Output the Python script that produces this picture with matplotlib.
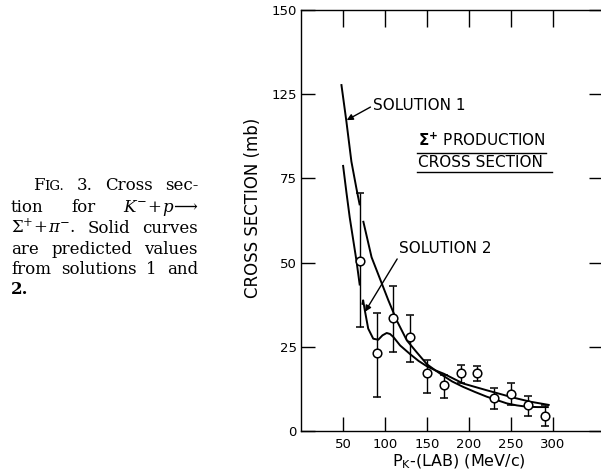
import numpy as np
import matplotlib
matplotlib.use("Agg")
import matplotlib.pyplot as plt
from matplotlib.lines import Line2D

# ---------------- data ----------------
p_lab = [70, 90, 110, 130, 150, 170, 190, 210, 230, 250, 270, 290]
sigma = [50.6, 23.3, 33.5, 28.0, 17.1, 13.7, 17.1, 17.1, 9.7, 10.9, 7.6, 4.4]
err_hi = [70.6, 35.1, 43.2, 34.4, 21.1, 16.7, 19.6, 19.3, 12.7, 14.2, 10.5, 7.8]
err_lo = [30.9, 10.0, 23.6, 20.4, 11.4, 9.7, 14.3, 14.9, 6.6, 7.7, 4.6, 1.5]

sol1_x = [48, 54, 60, 66, 70, np.nan, 74, 84, 94, 104, 114, 126, 138, 150, 160,
          170, 180, 193, 207, 221, 233, 245, 257, 269, 282, 295]
sol1_y = [103, 92, 80, 72, 67, np.nan, 62.4, 51.6, 45.2, 38.8, 32.8, 26.9, 23.3,
          19.8, 18.0, 16.3, 14.7, 13.1, 11.6, 10.2, 9.2, 8.2, 7.6, 7.2, 7.1, 7.1]

sol2_x = [50, 54, 58, 62, 66, 70, np.nan, 73, 74, 76, 80, 86, 92, 97, 102, 106,
          110, 118, 130, 140, 150, 160, 170, 193, 221, 253, 273, 296]
sol2_y = [79, 71, 63.4, 57, 50.6, 43.2, np.nan, 37.5, 38.8, 35.8, 30.4, 27.4,
          27.1, 28.4, 29.1, 28.8, 27.9, 25.4, 22.8, 20.8, 19.2, 18.0, 17.0,
          14.1, 12.1, 9.9, 8.7, 7.7]

x_ticks = [50, 100, 150, 200, 250, 300]
x_tick_labels = ["50", "100", "150", "200", "250", "300"]
y_ticks = [0, 25, 50, 75, 100, 125]
y_tick_labels = ["0", "25", "50", "75", "125", "150"]

# ---------------- figure ----------------
W, H = 601, 473
fig = plt.figure(figsize=(W / 100, H / 100), dpi=100)
fig.patch.set_facecolor("white")

ax_l, ax_r, ax_t, ax_b = 301, 603, 10, 431
ax = fig.add_axes([ax_l / W, (H - ax_b) / H, (ax_r - ax_l) / W, (ax_b - ax_t) / H])
ax.set_xlim(0, (ax_r - ax_l) / 0.84)
ax.set_ylim(0, 125)

for s in ax.spines.values():
    s.set_linewidth(1.0)

ax.set_xticks(x_ticks)
ax.set_xticklabels(x_tick_labels)
ax.set_yticks(y_ticks)
ax.set_yticklabels(y_tick_labels)
ax.tick_params(axis="both", direction="in", length=10, width=1.0,
               top=True, right=True, labelsize=9.5, colors="black")
ax.tick_params(axis="x", pad=5)
ax.tick_params(axis="y", pad=3)
for t in ax.xaxis.get_major_ticks():
    t.tick2line.set_markersize(12)

# curves
ax.plot(sol1_x, sol1_y, color="black", lw=1.4, solid_capstyle="butt")
ax.plot(sol2_x, sol2_y, color="black", lw=1.4, solid_capstyle="butt")

# data points
y = np.array(sigma)
yerr = [y - np.array(err_lo), np.array(err_hi) - y]
ax.errorbar(p_lab, sigma, yerr=yerr, fmt="o", ms=6.2, mfc="white", mec="black",
            mew=1.1, ecolor="black", elinewidth=1.0, capsize=3.0, capthick=1.0,
            zorder=4)

# annotations
ax.annotate("SOLUTION 1", xy=(54.4, 92.3), xytext=(86.0, 95.3),
            ha="left", va="baseline", fontsize=11,
            arrowprops=dict(arrowstyle="-|>", color="black", lw=1.0,
                            mutation_scale=9, shrinkA=0, shrinkB=0,
                            relpos=(0, 0.5)))
ax.annotate("SOLUTION 2", xy=(76.2, 35.4), xytext=(116.5, 52.8),
            ha="left", va="baseline", fontsize=11,
            arrowprops=dict(arrowstyle="-|>", color="black", lw=1.0,
                            mutation_scale=9, shrinkA=0, shrinkB=0,
                            relpos=(0, 0)))

ax.text(139.0, 84.6, r"$\mathbf{\Sigma^{+}}$ PRODUCTION", ha="left", va="baseline",
        fontsize=11, math_fontfamily="dejavusans")
ax.text(139.0, 78.3, "CROSS SECTION", ha="left", va="baseline", fontsize=11)
ax.add_line(Line2D([138.0, 292.0], [82.6, 82.6], color="black", lw=1.0))
ax.add_line(Line2D([138.0, 299.0], [77.0, 77.0], color="black", lw=1.0))

# axis labels
fig.text(253 / W, 1 - 208 / H, "CROSS SECTION (mb)", rotation=90,
         ha="center", va="center", fontsize=12)
fig.text(459 / W, 1 - 462 / H, r"P$_{\mathrm{K}}$-(LAB) (MeV/c)",
         ha="center", va="center", fontsize=11.5, math_fontfamily="dejavusans")

# ---------------- caption (justified) ----------------
cap_fs = 12.0
serif = "DejaVu Serif"
renderer = fig.canvas.get_renderer()

def run(text, size=cap_fs, weight="normal"):
    return (text, size, weight)

caption_lines = [
    (33, [[run("F"), run("IG.", cap_fs * 0.8)], [run("3.")], [run("Cross")], [run("sec-")]]),
    (11, [[run("tion")], [run("for")], [run(r"$K^{-}\!+\!p\!\longrightarrow$")]]),
    (11, [[run(r"$\Sigma^{+}\!+\!\pi^{-}$.")], [run("Solid")], [run("curves")]]),
    (11, [[run("are")], [run("predicted")], [run("values")]]),
    (11, [[run("from")], [run("solutions")], [run("1")], [run("and")]]),
    (11, [[run("2.", weight="bold")]]),
]
baselines = [190, 212, 233, 254, 274, 294]
right_edge = 198

for (x0, words), yb in zip(caption_lines, baselines):
    items = []
    for word in words:
        arts = []
        for txt, size, weight in word:
            a = fig.text(0, 0, txt, fontsize=size, fontweight=weight,
                         family=serif, math_fontfamily="dejavuserif",
                         ha="left", va="baseline")
            arts.append(a)
        widths = [a.get_window_extent(renderer).width for a in arts]
        items.append((arts, widths))
    total = sum(sum(w) for _, w in items)
    n = len(items)
    gap = (right_edge - x0 - total) / (n - 1) if n > 1 else 0
    x = x0
    for arts, widths in items:
        for a, w in zip(arts, widths):
            a.set_position((x / W, 1 - yb / H))
            x += w
        x += gap

fig.savefig("out.png", dpi=100, facecolor="white")
